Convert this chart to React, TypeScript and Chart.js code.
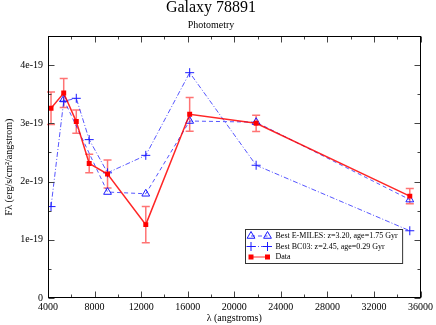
import React, { useEffect, useRef } from "react";
import { Chart, registerables } from "chart.js";

Chart.register(...registerables);

// Wavelengths (angstroms) of the photometric points
const wavelengths = [4260, 5350, 6430, 7540, 9115, 12400, 16170, 21880, 35080];
// Observed flux, units of 1e-19 erg/s/cm^2/angstrom
const dataFlux = [3.26, 3.52, 3.03, 2.31, 2.13, 1.26, 3.155, 3.0, 1.75];
const dataErr = [0.28, 0.25, 0.2, 0.16, 0.24, 0.31, 0.29, 0.14, 0.13];
// Best BC03 model
const bc03Flux = [1.57, 3.38, 3.43, 2.72, 2.15, 2.45, 3.87, 2.28, 1.155];
// Best E-MILES model
const emilesWave = [5350, 9115, 12400, 16170, 21880, 35080];
const emilesFlux = [3.41, 1.82, 1.79, 3.04, 3.02, 1.69];

const xTickValues = [4000, 8000, 12000, 16000, 20000, 24000, 28000, 32000, 36000];
const yTickValues = [0, 1, 2, 3, 4];

const LABEL_EMILES = "Best E-MILES: z=3.20, age=1.75 Gyr";
const LABEL_BC03 = "Best BC03: z=2.45, age=0.29 Gyr";
const LABEL_DATA = "Data";

const FONT = "'Liberation Serif', 'DejaVu Serif', serif";
const RED = "rgba(255,0,0,0.85)";
const RED_ERR = "rgba(255,70,70,0.75)";
const BLUE_LINE = "rgba(30,30,255,0.75)";
const BLUE = "#1a1aff";

function drawTriangle(ctx: CanvasRenderingContext2D, x: number, y: number, r: number) {
  ctx.beginPath();
  for (let i = 0; i < 3; i++) {
    const a = (i * 2 * Math.PI) / 3;
    const px = x + Math.sin(a) * r;
    const py = y - Math.cos(a) * r;
    if (i === 0) ctx.moveTo(px, py);
    else ctx.lineTo(px, py);
  }
  ctx.closePath();
  ctx.stroke();
}

function drawCross(ctx: CanvasRenderingContext2D, x: number, y: number, r: number) {
  ctx.beginPath();
  ctx.moveTo(x - r, y);
  ctx.lineTo(x + r, y);
  ctx.moveTo(x, y - r);
  ctx.lineTo(x, y + r);
  ctx.stroke();
}

const customPlugin = {
  id: "customFrame",
  beforeDatasetsDraw(chart: any) {
    const { ctx, scales } = chart;
    const xs = scales.x;
    const ys = scales.y;
    ctx.save();
    ctx.strokeStyle = RED_ERR;
    ctx.lineWidth = 1.5;
    wavelengths.forEach((w, i) => {
      const px = xs.getPixelForValue(w);
      const top = ys.getPixelForValue(dataFlux[i] + dataErr[i]);
      const bot = ys.getPixelForValue(dataFlux[i] - dataErr[i]);
      ctx.beginPath();
      ctx.moveTo(px, top);
      ctx.lineTo(px, bot);
      ctx.moveTo(px - 4, top);
      ctx.lineTo(px + 4, top);
      ctx.moveTo(px - 4, bot);
      ctx.lineTo(px + 4, bot);
      ctx.stroke();
    });
    ctx.restore();
  },
  afterDatasetsDraw(chart: any) {
    const { ctx, chartArea: a, scales } = chart;
    const xs = scales.x;
    const ys = scales.y;
    ctx.save();
    const L = Math.round(a.left) + 0.5;
    const R = Math.round(a.right) - 0.5;
    const T = Math.round(a.top) + 0.5;
    const B = Math.round(a.bottom) - 0.5;
    // ticks (inward on all sides)
    ctx.strokeStyle = "#444";
    ctx.lineWidth = 1;
    ctx.beginPath();
    const xMinor: number[] = [];
    for (let i = 0; i < xTickValues.length - 1; i++) xMinor.push((xTickValues[i] + xTickValues[i + 1]) / 2);
    const yMinor: number[] = [];
    for (let i = 0; i < yTickValues.length; i++) yMinor.push(yTickValues[i] + 0.5);
    const xt = (v: number, len: number) => {
      const px = Math.round(xs.getPixelForValue(v)) + 0.5;
      ctx.moveTo(px, B);
      ctx.lineTo(px, B - len);
      ctx.moveTo(px, T);
      ctx.lineTo(px, T + len);
    };
    const yt = (v: number, len: number) => {
      const py = Math.round(ys.getPixelForValue(v)) + 0.5;
      ctx.moveTo(L, py);
      ctx.lineTo(L + len, py);
      ctx.moveTo(R, py);
      ctx.lineTo(R - len, py);
    };
    xTickValues.forEach((v) => xt(v, 6));
    xMinor.forEach((v) => xt(v, 3));
    yTickValues.forEach((v) => yt(v, 6));
    yMinor.forEach((v) => yt(v, 3));
    ctx.stroke();
    // frame
    ctx.strokeStyle = "#000";
    ctx.strokeRect(L, T, R - L, B - T);

    // legend
    ctx.font = `8px ${FONT}`;
    const labels = [LABEL_EMILES, LABEL_BC03, LABEL_DATA];
    const maxW = Math.max(...labels.map((t) => ctx.measureText(t).width));
    const boxW = 30 + maxW + 5;
    const boxH = 34;
    const bx = Math.round(a.right - 18 - boxW) + 0.5;
    const by = Math.round(a.bottom - 35 - boxH) + 0.5;
    ctx.fillStyle = "#fff";
    ctx.fillRect(bx, by, boxW, boxH);
    ctx.strokeStyle = "#333";
    ctx.lineWidth = 1;
    ctx.strokeRect(bx, by, boxW, boxH);
    const rowY = [by + 6.5, by + 17, by + 27.5];
    const sx1 = bx + 5.5;
    const sx2 = bx + 22;
    // E-MILES
    ctx.strokeStyle = BLUE_LINE;
    ctx.setLineDash([4, 3]);
    ctx.beginPath();
    ctx.moveTo(sx1, rowY[0]);
    ctx.lineTo(sx2, rowY[0]);
    ctx.stroke();
    ctx.setLineDash([]);
    ctx.strokeStyle = BLUE;
    drawTriangle(ctx, sx1, rowY[0], 4.5);
    drawTriangle(ctx, sx2, rowY[0], 4.5);
    // BC03
    ctx.strokeStyle = BLUE_LINE;
    ctx.setLineDash([5, 2, 1, 2]);
    ctx.beginPath();
    ctx.moveTo(sx1, rowY[1]);
    ctx.lineTo(sx2, rowY[1]);
    ctx.stroke();
    ctx.setLineDash([]);
    ctx.strokeStyle = BLUE;
    drawCross(ctx, sx1, rowY[1], 4.5);
    drawCross(ctx, sx2, rowY[1], 4.5);
    // Data
    ctx.strokeStyle = "rgba(255,80,80,0.8)";
    ctx.lineWidth = 1.5;
    ctx.beginPath();
    ctx.moveTo(sx1, rowY[2]);
    ctx.lineTo(sx2, rowY[2]);
    ctx.stroke();
    ctx.fillStyle = "#ff0000";
    ctx.fillRect(sx1 - 2.5, rowY[2] - 2.5, 5, 5);
    ctx.fillRect(sx2 - 2.5, rowY[2] - 2.5, 5, 5);
    // texts
    ctx.fillStyle = "#000";
    ctx.textBaseline = "middle";
    ctx.textAlign = "left";
    labels.forEach((t, i) => ctx.fillText(t, bx + 30, rowY[i]));
    ctx.restore();
  },
};

export default function App() {
  const ref = useRef<HTMLCanvasElement | null>(null);
  useEffect(() => {
    if (!ref.current) return;
    const chart = new Chart(ref.current, {
      type: "line",
      data: {
        datasets: [
          {
            label: LABEL_DATA,
            data: wavelengths.map((w, i) => ({ x: w, y: dataFlux[i] })),
            borderColor: RED,
            borderWidth: 1.5,
            pointStyle: "rect",
            pointRadius: 3.5,
            pointBackgroundColor: "#ff0000",
            pointBorderColor: "#ff0000",
            pointBorderWidth: 0,
            order: 0,
          },
          {
            label: LABEL_EMILES,
            data: emilesWave.map((w, i) => ({ x: w, y: emilesFlux[i] })),
            borderColor: BLUE_LINE,
            borderWidth: 1,
            borderDash: [4, 3],
            pointStyle: "triangle",
            pointRadius: 4.5,
            pointBackgroundColor: "rgba(0,0,0,0)",
            pointBorderColor: BLUE,
            pointBorderWidth: 1,
            order: 1,
          },
          {
            label: LABEL_BC03,
            data: wavelengths.map((w, i) => ({ x: w, y: bc03Flux[i] })),
            borderColor: BLUE_LINE,
            borderWidth: 1,
            borderDash: [5, 2, 1, 2],
            pointStyle: "cross",
            pointRadius: 4.5,
            pointBackgroundColor: "rgba(0,0,0,0)",
            pointBorderColor: BLUE,
            pointBorderWidth: 1,
            order: 2,
          },
        ],
      },
      options: {
        animation: false,
        responsive: false,
        events: [],
        layout: { padding: { left: 0, right: 14, top: 0, bottom: 0 } },
        plugins: {
          legend: { display: false },
          tooltip: { enabled: false },
          title: {
            display: true,
            text: "Galaxy 78891",
            color: "#000",
            font: { family: FONT, size: 16, weight: "normal", lineHeight: 1 },
            padding: { top: 0, bottom: 0 },
          },
          subtitle: {
            display: true,
            text: "Photometry",
            color: "#000",
            font: { family: FONT, size: 10, weight: "normal", lineHeight: 1 },
            padding: { top: 4, bottom: 6 },
          },
        },
        scales: {
          x: {
            type: "linear",
            min: 4000,
            max: 36000,
            afterBuildTicks: (s: any) => {
              s.ticks = xTickValues.map((v) => ({ value: v }));
            },
            afterFit: (s: any) => {
              s.height = 27;
            },
            grid: { display: false, drawTicks: false },
            border: { display: false },
            ticks: {
              color: "#000",
              font: { family: FONT, size: 10 },
              padding: 3,
              maxRotation: 0,
              autoSkip: false,
              callback: (v: any) => String(v),
            },
            title: {
              display: true,
              text: "λ (angstroms)",
              color: "#000",
              font: { family: FONT, size: 10 },
              padding: { top: 0, bottom: 1 },
            },
          },
          y: {
            type: "linear",
            min: 0,
            max: 4.5,
            afterBuildTicks: (s: any) => {
              s.ticks = yTickValues.map((v) => ({ value: v }));
            },
            afterFit: (s: any) => {
              s.width = 48;
            },
            grid: { display: false, drawTicks: false },
            border: { display: false },
            ticks: {
              color: "#000",
              font: { family: FONT, size: 10 },
              padding: 5,
              callback: (v: any) => (Number(v) === 0 ? "0" : `${v}e-19`),
            },
            title: {
              display: true,
              text: "Fλ (erg/s/cm²/angstrom)",
              color: "#000",
              font: { family: FONT, size: 10 },
              padding: { top: 3, bottom: 0 },
            },
          },
        },
      },
      plugins: [customPlugin],
    } as any);
    return () => chart.destroy();
  }, []);
  return (
    <div style={{ position: "fixed", left: 0, top: 0, width: 436, height: 325, background: "#fff" }}>
      <canvas ref={ref} width={436} height={325} style={{ display: "block" }} />
    </div>
  );
}
